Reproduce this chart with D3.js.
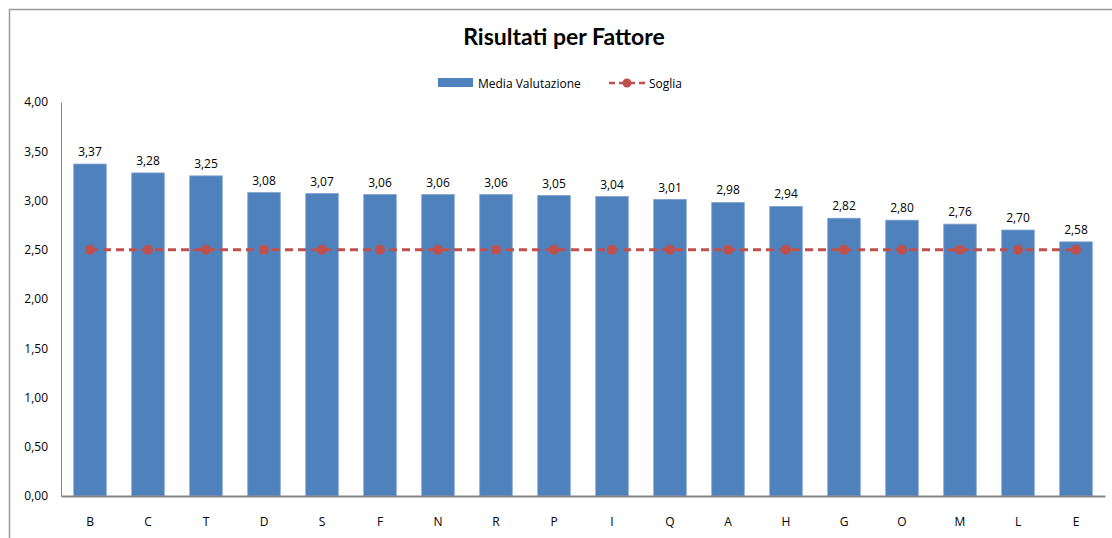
<!DOCTYPE html>
<html>
<head>
<meta charset="utf-8">
<script src="https://cdn.jsdelivr.net/npm/d3@7"></script>
<style>
  html, body { margin: 0; padding: 0; background: #fff; }
  svg { display: block; font-family: "Open Sans", "Noto Sans", sans-serif; }
</style>
</head>
<body>
<svg id="chart" width="1112" height="538"></svg>
<script>
// Average rating per factor, sorted descending
const categories = ["B","C","T","D","S","F","N","R","P","I","Q","A","H","G","O","M","L","E"];
const mediaValutazione = [3.37,3.28,3.25,3.08,3.07,3.06,3.06,3.06,3.05,3.04,3.01,2.98,2.94,2.82,2.80,2.76,2.70,2.58];
const soglia = [2.5,2.5,2.5,2.5,2.5,2.5,2.5,2.5,2.5,2.5,2.5,2.5,2.5,2.5,2.5,2.5,2.5,2.5];
const yTicks = [0,0.5,1,1.5,2,2.5,3,3.5,4];

const svg = d3.select("#chart");
const fmt = v => d3.format(".2f")(v).replace(".", ",");

const plot = { left: 61, right: 1105, top: 102, bottom: 496 };
const barColor = "#4F81BD", lineColor = "#C0504D";

// chart frame (left and top edges visible)
svg.append("path")
  .attr("d", "M9.5,538 L9.5,9.5 L1112,9.5")
  .attr("fill", "none").attr("stroke", "#9a9a9a").attr("stroke-width", 1.5);

const x = d3.scaleBand().domain(categories).range([plot.left, plot.right]).paddingInner(0.44).paddingOuter(0.22);
const xc = d => x(d) + x.bandwidth() / 2;
const y = d3.scaleLinear().domain([0, 4]).range([plot.bottom, plot.top]);

// title
svg.append("text").attr("x", 564).attr("y", 45).attr("text-anchor", "middle")
  .attr("font-size", 23).attr("font-weight", "bold").attr("fill", "#000")
  .attr("font-family", "Lato, 'Open Sans', sans-serif")
  .text("Risultati per Fattore");

// legend
const lg = svg.append("g").attr("font-size", 12).attr("fill", "#000");
lg.append("rect").attr("x", 438).attr("y", 78).attr("width", 35).attr("height", 9).attr("fill", barColor);
lg.append("text").attr("x", 478).attr("y", 87.5).text("Media Valutazione");
lg.append("line").attr("x1", 609).attr("x2", 645).attr("y1", 83).attr("y2", 83)
  .attr("stroke", lineColor).attr("stroke-width", 2.5).attr("stroke-dasharray", "6,4");
lg.append("circle").attr("cx", 627).attr("cy", 83).attr("r", 4.5).attr("fill", lineColor);
lg.append("text").attr("x", 649).attr("y", 87.5).text("Soglia");

// y axis
const yAxis = d3.axisLeft(y).tickValues(yTicks).tickFormat(fmt).tickSize(0).tickPadding(13);
const gy = svg.append("g").attr("transform", `translate(${plot.left},0)`).call(yAxis);
gy.select(".domain").attr("stroke", "#868686").attr("stroke-width", 1);
gy.selectAll("text").attr("font-size", 12).attr("fill", "#000").attr("font-family", "'Open Sans', sans-serif");

// bars
svg.append("g").selectAll("rect").data(categories).join("rect")
  .attr("x", d => x(d)).attr("width", x.bandwidth())
  .attr("y", (d, i) => y(mediaValutazione[i]))
  .attr("height", (d, i) => y(0) - y(mediaValutazione[i]))
  .attr("fill", barColor).attr("stroke", "#7BA0CD").attr("stroke-width", 0.8);

// value labels
svg.append("g").selectAll("text").data(categories).join("text")
  .attr("x", d => xc(d)).attr("y", (d, i) => y(mediaValutazione[i]) - 8)
  .attr("text-anchor", "middle").attr("font-size", 12).attr("fill", "#000")
  .text((d, i) => fmt(mediaValutazione[i]));

// x axis
const xAxis = d3.axisBottom(x).tickSize(0).tickPadding(21);
const gx = svg.append("g").attr("transform", `translate(0,${plot.bottom})`).call(xAxis);
gx.select(".domain").attr("stroke", "#868686").attr("stroke-width", 2);
gx.selectAll("text").attr("font-size", 12).attr("fill", "#000").attr("font-family", "'Open Sans', sans-serif");

// threshold line
const line = d3.line().x((d, i) => xc(categories[i])).y(d => y(d));
svg.append("path").datum(soglia).attr("d", line)
  .attr("fill", "none").attr("stroke", lineColor).attr("stroke-width", 3).attr("stroke-dasharray", "8,5");
svg.append("g").selectAll("circle").data(soglia).join("circle")
  .attr("cx", (d, i) => xc(categories[i])).attr("cy", d => y(d)).attr("r", 5)
  .attr("fill", lineColor);
</script>
</body>
</html>
